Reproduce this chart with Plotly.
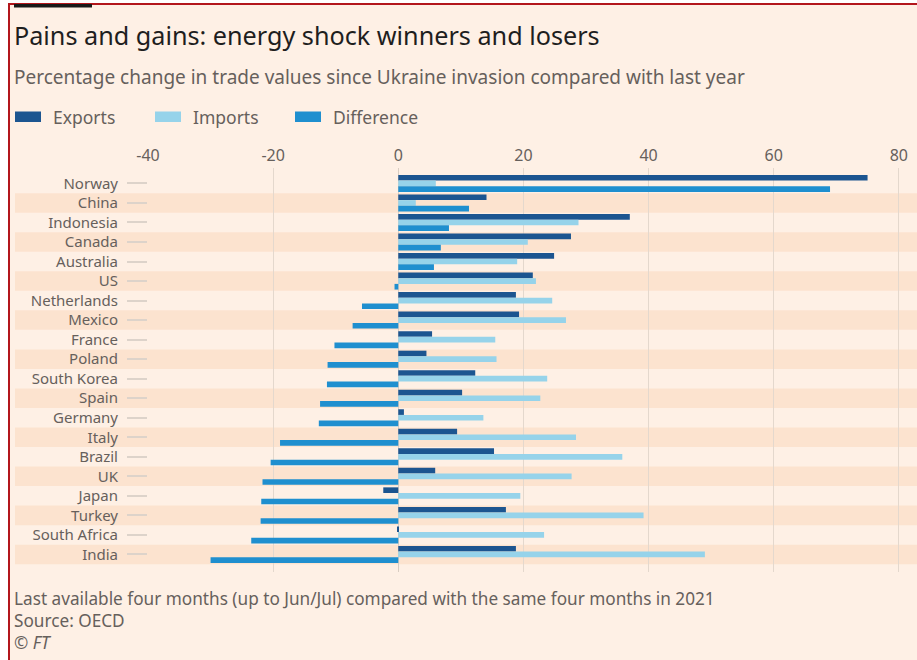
import plotly.graph_objects as go

# ---------------- data ----------------
countries = ["Norway", "China", "Indonesia", "Canada", "Australia", "US", "Netherlands",
             "Mexico", "France", "Poland", "South Korea", "Spain", "Germany", "Italy",
             "Brazil", "UK", "Japan", "Turkey", "South Africa", "India"]
exports = [75.0, 14.1, 37.0, 27.6, 24.9, 21.5, 18.8, 19.3, 5.4, 4.5, 12.3, 10.2, 0.9, 9.4,
           15.3, 5.9, -2.4, 17.2, -0.2, 18.8]
imports = [6.0, 2.8, 28.8, 20.7, 19.0, 22.0, 24.6, 26.8, 15.5, 15.7, 23.8, 22.7, 13.6, 28.4,
           35.8, 27.7, 19.5, 39.2, 23.3, 49.0]
difference = [69.0, 11.3, 8.1, 6.8, 5.7, -0.6, -5.8, -7.3, -10.2, -11.3, -11.4, -12.5, -12.7,
              -18.9, -20.4, -21.7, -21.9, -22.0, -23.5, -30.0]
x_tickvals = [-40, -20, 0, 20, 40, 60, 80]
x_ticktext = ["-40", "-20", "0", "20", "40", "60", "80"]

series_names = ["Exports", "Imports", "Difference"]
series_colors = ["#1c5590", "#96d3ea", "#1f8fcf"]

title_text = "Pains and gains: energy shock winners and losers"
subtitle_text = "Percentage change in trade values since Ukraine invasion compared with last year"
note_text = "Last available four months (up to Jun/Jul) compared with the same four months in 2021"
source_text = "Source: OECD"
credit_text = "© <i>FT</i>"

# ---------------- layout geometry ----------------
W, H = 917, 660
L, R, T, B = 148, 0, 168, 88
PW, PH = W - L - R, H - T - B

def px(x):
    return (x - L) / PW

def py(y):
    return (H - B - y) / PH

BG = "#fef0e5"
BAND = "#fce3cf"
GREY = "#66605c"
FONT = "Noto Sans"

fig = go.Figure()
for name, vals, col in zip(series_names, [exports, imports, difference], series_colors):
    fig.add_trace(go.Bar(
        x=vals, y=countries, orientation="h", name=name,
        marker=dict(color=col, line=dict(width=0)),
        showlegend=False,
    ))

shapes = []
# alternating row bands
for i, c in enumerate(countries):
    if i % 2 == 1:
        shapes.append(dict(type="rect", xref="paper", yref="y",
                           x0=px(15), x1=1.0, y0=i - 0.5, y1=i + 0.5,
                           fillcolor=BAND, line=dict(width=0), layer="below"))

# frame: white outside, red border, black tag
shapes += [
    dict(type="rect", xref="paper", yref="paper", x0=px(0), x1=px(8), y0=py(H), y1=py(0),
         fillcolor="white", line=dict(width=0), layer="above"),
    dict(type="rect", xref="paper", yref="paper", x0=px(0), x1=px(W), y0=py(3), y1=py(0),
         fillcolor="white", line=dict(width=0), layer="above"),
    dict(type="rect", xref="paper", yref="paper", x0=px(8), x1=px(W), y0=py(5), y1=py(3),
         fillcolor="#b3161c", line=dict(width=0), layer="above"),
    dict(type="rect", xref="paper", yref="paper", x0=px(8), x1=px(10), y0=py(H), y1=py(3),
         fillcolor="#b3161c", line=dict(width=0), layer="above"),
    dict(type="rect", xref="paper", yref="paper", x0=px(14), x1=px(92), y0=py(7.5), y1=py(4),
         fillcolor="#1a1a1a", line=dict(width=0), layer="above"),
]

# custom legend
legend_rects = [(15, 41), (155, 181), (295, 321)]
legend_text_x = [51, 191, 331]
annotations = []
for (x0, x1), tx, name, col in zip(legend_rects, legend_text_x, series_names, series_colors):
    shapes.append(dict(type="rect", xref="paper", yref="paper", x0=px(x0), x1=px(x1),
                       y0=py(122), y1=py(111.5), fillcolor=col, line=dict(width=0)))
    annotations.append(dict(xref="paper", yref="paper", x=px(tx), y=py(116.5), text=name,
                            showarrow=False, xanchor="left", yanchor="middle",
                            font=dict(family=FONT, size=17.5, color=GREY)))

def text_ann(x, y, text, size, color):
    return dict(xref="paper", yref="paper", x=px(x), y=py(y), text=text, showarrow=False,
                xanchor="left", yanchor="middle", font=dict(family=FONT, size=size, color=color))

annotations += [
    text_ann(12, 35, title_text, 25.2, "#1e1e1e"),
    text_ann(12, 77, subtitle_text, 19, GREY),
    text_ann(12, 598, note_text, 17.2, GREY),
    text_ann(12, 620, source_text, 17.2, GREY),
    text_ann(12, 642, credit_text, 17.2, GREY),
]

fig.update_layout(
    width=W, height=H,
    margin=dict(l=L, r=R, t=T, b=B, pad=0),
    paper_bgcolor=BG, plot_bgcolor=BG,
    barmode="group", bargap=0.13, bargroupgap=0,
    showlegend=False,
    shapes=shapes, annotations=annotations,
    font=dict(family=FONT, color=GREY),
    xaxis=dict(
        side="top", range=[-40, 82.9], tickvals=x_tickvals, ticktext=x_ticktext,
        showgrid=True, gridcolor="#e4d8cd", gridwidth=1,
        zeroline=True, zerolinecolor="#d9cdc2", zerolinewidth=1,
        ticks="", showline=False, tickfont=dict(size=16, color=GREY, family=FONT),
        ticklabelstandoff=3,
        fixedrange=True,
    ),
    yaxis=dict(
        type="category", range=[19.9, -0.79], autorange=False,
        showgrid=False, zeroline=False, showline=False,
        ticks="outside", ticklen=20, tickwidth=1.5, tickcolor="#ddd3ca",
        ticklabelstandoff=6,
        tickfont=dict(size=15, color=GREY, family=FONT),
        fixedrange=True,
    ),
)

fig.write_html("out.html",
               config={"displayModeBar": False},
               post_script="document.body.style.margin='0';document.body.style.overflow='hidden';")
